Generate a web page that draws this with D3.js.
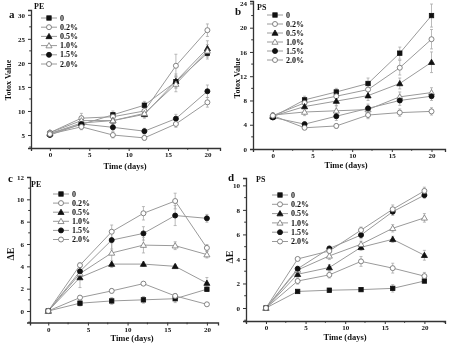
<!DOCTYPE html>
<html>
<head>
<meta charset="utf-8">
<script src="https://cdn.jsdelivr.net/npm/d3@7"></script>
<style>
  body { margin: 0; background: #fff; }
  svg { will-change: transform; }
  text { font-family: "Liberation Serif", "Times New Roman", serif; font-weight: bold; fill: #111; }
</style>
</head>
<body>
<svg id="chart" width="450" height="347"></svg>
<script>
// sampling days and series names
var days = [0, 4, 8, 12, 16, 20];
var seriesNames = ["0", "0.2%", "0.5%", "1.0%", "1.5%", "2.0%"];
var seriesMarks = ["squareFill", "circleOpen", "triFill", "triOpen", "circleFill", "circleOpen"];

// a: Totox value, PE
var totoxPE = [
  [5.3, 7.2, 9.2, 11.2, 16.1, 22.0],
  [5.5, 8.5, 8.8, 10.0, 19.4, 26.8],
  [5.3, 7.5, 8.0, 9.3, 16.2, 23.0],
  [5.5, 8.0, 8.0, 9.5, 15.6, 22.5],
  [5.0, 7.3, 6.6, 5.8, 8.4, 14.1],
  [5.2, 6.7, 5.0, 4.4, 7.3, 11.8]
];
var totoxPEErr = [
  [0.4, 0.8, 0.8, 0.8, 1.2, 1.2],
  [0.4, 1.0, 0.8, 0.9, 2.4, 1.3],
  [0.3, 0.8, 0.7, 0.8, 1.5, 1.6],
  [0.4, 0.9, 0.8, 0.8, 1.6, 1.3],
  [0.3, 0.6, 0.8, 0.6, 0.9, 1.3],
  [0.4, 0.6, 0.6, 0.5, 0.7, 1.0]
];
// b: Totox value, PS
var totoxPS = [
  [5.3, 8.1, 9.4, 10.8, 15.8, 22.0],
  [5.5, 7.6, 8.7, 9.8, 13.4, 18.1],
  [5.4, 7.0, 7.9, 8.8, 10.8, 14.3],
  [5.6, 6.1, 6.3, 6.5, 8.6, 9.3],
  [5.2, 4.1, 5.4, 6.7, 8.0, 8.7],
  [5.5, 3.5, 3.8, 5.6, 6.0, 6.2]
];
var totoxPSErr = [
  [0.4, 0.6, 0.6, 0.9, 1.0, 1.9],
  [0.4, 0.7, 0.8, 0.8, 1.2, 1.6],
  [0.4, 0.7, 0.8, 0.8, 0.9, 1.7],
  [0.4, 0.6, 0.9, 0.6, 0.8, 0.8],
  [0.3, 0.4, 0.7, 0.7, 0.8, 0.7],
  [0.4, 0.3, 0.4, 0.6, 0.6, 0.6]
];
// c: colour difference, PE
var dePE = [
  [0, 0.7, 0.9, 1.0, 1.1, 1.95],
  [0, 1.2, 1.8, 2.45, 1.35, 0.6],
  [0, 3.0, 4.2, 4.2, 4.0, 2.5],
  [0, 3.35, 5.2, 5.9, 5.85, 5.05],
  [0, 3.55, 6.35, 6.95, 8.55, 8.3],
  [0, 4.1, 7.1, 8.75, 9.85, 5.65]
];
var dePEErr = [
  [0, 0.25, 0.3, 0.3, 0.35, 0.2],
  [0, 0.15, 0.2, 0.15, 0.2, 0.1],
  [0, 0.9, 0.3, 0.2, 0.15, 0.5],
  [0, 0.3, 0.9, 0.7, 0.35, 0.3],
  [0, 0.4, 0.8, 0.6, 0.9, 0.35],
  [0, 0.2, 0.6, 0.6, 0.7, 0.3]
];
// d: colour difference, PS
var dePS = [
  [0, 1.35, 1.45, 1.5, 1.6, 2.2],
  [0, 2.2, 2.7, 3.8, 3.25, 2.6],
  [0, 2.75, 3.3, 4.95, 5.6, 4.3],
  [0, 3.1, 4.25, 5.2, 6.5, 7.35],
  [0, 3.2, 4.85, 5.95, 7.85, 9.2],
  [0, 4.0, 4.65, 6.35, 8.05, 9.55]
];
var dePSErr = [
  [0, 0.1, 0.15, 0.15, 0.3, 0.15],
  [0, 0.25, 0.25, 0.4, 0.4, 0.3],
  [0, 0.2, 0.25, 0.25, 0.25, 0.4],
  [0, 0.2, 0.3, 0.25, 0.3, 0.35],
  [0, 0.2, 0.2, 0.3, 0.3, 0.25],
  [0, 0.1, 0.2, 0.25, 0.35, 0.3]
];

var xTicks = [0, 5, 10, 15, 20];

var panels = [
  { letter: "a", poly: "PE", ylab: "Totox Value", vals: totoxPE, errs: totoxPEErr,
    xd: [-2.4, 21.6], xr: [31, 220], yd: [2.3, 31], yr: [148, 10],
    yTicks: [5, 10, 15, 20, 25, 30], yMinor: 2.5,
    letterPos: [9, 18], polyPos: [34, 9], leg: [41, 18, 9.2],
    ylabPos: [11, 80], xlabPos: [125, 169] },
  { letter: "b", poly: "PS", ylab: "Totox Value", vals: totoxPS, errs: totoxPSErr,
    xd: [-2.5, 21.7], xr: [253, 445], yd: [0, 24.4], yr: [149, 1],
    yTicks: [0, 4, 8, 12, 16, 20, 24], yMinor: 2,
    letterPos: [235, 15], polyPos: [257, 10], leg: [267, 15, 9],
    ylabPos: [240, 78], xlabPos: [346, 167.5] },
  { letter: "c", poly: "PE", ylab: "\u0394E", vals: dePE, errs: dePEErr,
    xd: [-2.3, 21.4], xr: [30, 218], yd: [-1.03, 12], yr: [322.5, 177],
    yTicks: [0, 2, 4, 6, 8, 10, 12], yMinor: 1,
    letterPos: [8, 182], polyPos: [31, 187], leg: [53, 194, 9.1],
    ylabPos: [14, 254], xlabPos: [132, 341] },
  { letter: "d", poly: "PS", ylab: "\u0394E", vals: dePS, errs: dePSErr,
    xd: [-2.52, 22.6], xr: [246, 445], yd: [-1.06, 10.6], yr: [321, 178],
    yTicks: [0, 2, 4, 6, 8, 10], yMinor: 1,
    letterPos: [228, 181], polyPos: [256, 182], leg: [272, 195, 9.3],
    ylabPos: [233, 257], xlabPos: [345, 340] }
];

var svg = d3.select("#chart");
var lineCol = "#9a9a9a";

function drawMark(g, kind, x, y) {
  var filled = kind.indexOf("Fill") > -1;
  var fill = filled ? "#111" : "#fff";
  var stroke = filled ? "#111" : "#777";
  if (kind.indexOf("square") === 0) {
    g.append("rect").attr("x", x - 2.2).attr("y", y - 2.2).attr("width", 4.4).attr("height", 4.4)
      .attr("fill", fill).attr("stroke", stroke).attr("stroke-width", 0.8);
  } else if (kind.indexOf("circle") === 0) {
    g.append("circle").attr("cx", x).attr("cy", y).attr("r", 2.5)
      .attr("fill", fill).attr("stroke", stroke).attr("stroke-width", 0.9);
  } else {
    var sym = d3.symbol().type(d3.symbolTriangle).size(16);
    g.append("path").attr("d", sym).attr("transform", "translate(" + x + "," + (y + 0.5) + ")")
      .attr("fill", fill).attr("stroke", stroke).attr("stroke-width", 0.8);
  }
}

panels.forEach(function(p) {
  var g = svg.append("g");
  var x = d3.scaleLinear().domain(p.xd).range(p.xr);
  var y = d3.scaleLinear().domain(p.yd).range(p.yr);

  // axes (left + bottom only, outward ticks)
  var xAxis = d3.axisBottom(x).tickValues(xTicks).tickSize(3).tickPadding(1.5).tickFormat(d3.format("d"));
  var yAxis = d3.axisLeft(y).tickValues(p.yTicks).tickSize(3).tickPadding(3).tickFormat(d3.format("d"));
  var gx = g.append("g").attr("transform", "translate(0," + p.yr[0] + ")").call(xAxis);
  var gy = g.append("g").attr("transform", "translate(" + p.xr[0] + ",0)").call(yAxis);
  [gx, gy].forEach(function(a) {
    a.select(".domain").attr("stroke", "#333").attr("stroke-width", 1.3);
    a.selectAll(".tick line").attr("stroke", "#333").attr("stroke-width", 1);
    a.selectAll(".tick text").attr("fill", "#111").style("font-size", "7px")
      .style("font-family", "Liberation Serif").style("font-weight", "bold");
  });

  // minor ticks
  var xm = d3.range(-2.5, p.xd[1], 2.5).filter(function(v) { return v > p.xd[0] && v % 5 !== 0; });
  g.selectAll(".xm").data(xm).enter().append("line")
    .attr("x1", function(d) { return x(d); }).attr("x2", function(d) { return x(d); })
    .attr("y1", p.yr[0]).attr("y2", p.yr[0] + 1.8).attr("stroke", "#333");
  var ym = d3.range(Math.ceil(p.yd[0] / p.yMinor) * p.yMinor, p.yd[1], p.yMinor)
    .filter(function(v) { return p.yTicks.indexOf(v) < 0; });
  g.selectAll(".ym").data(ym).enter().append("line")
    .attr("x1", p.xr[0] - 1.8).attr("x2", p.xr[0])
    .attr("y1", function(d) { return y(d); }).attr("y2", function(d) { return y(d); }).attr("stroke", "#333");

  // lines and error bars
  var line = d3.line().x(function(d, i) { return x(days[i]); }).y(function(d) { return y(d); });
  p.vals.forEach(function(s, k) {
    g.append("path").datum(s).attr("d", line).attr("fill", "none").attr("stroke", lineCol).attr("stroke-width", 1);
  });
  p.vals.forEach(function(s, k) {
    s.forEach(function(v, i) {
      var e = p.errs[k][i];
      if (e <= 0) return;
      var cx = x(days[i]);
      g.append("line").attr("x1", cx).attr("x2", cx).attr("y1", y(v - e)).attr("y2", y(v + e))
        .attr("stroke", "#aaa").attr("stroke-width", 0.8);
      [v - e, v + e].forEach(function(t) {
        g.append("line").attr("x1", cx - 1.5).attr("x2", cx + 1.5).attr("y1", y(t)).attr("y2", y(t))
          .attr("stroke", "#aaa").attr("stroke-width", 0.8);
      });
    });
  });
  p.vals.forEach(function(s, k) {
    s.forEach(function(v, i) { drawMark(g, seriesMarks[k], x(days[i]), y(v)); });
  });

  // legend
  seriesNames.forEach(function(name, k) {
    var ly = p.leg[1] + k * p.leg[2];
    g.append("line").attr("x1", p.leg[0]).attr("x2", p.leg[0] + 16).attr("y1", ly).attr("y2", ly)
      .attr("stroke", lineCol).attr("stroke-width", 1);
    drawMark(g, seriesMarks[k], p.leg[0] + 8, ly);
    g.append("text").attr("x", p.leg[0] + 19).attr("y", ly + 2.6).attr("fill", "#111")
      .style("font-size", "8px").text(name);
  });

  // labels
  g.append("text").attr("x", p.letterPos[0]).attr("y", p.letterPos[1]).style("font-size", "11px").text(p.letter);
  g.append("text").attr("x", p.polyPos[0]).attr("y", p.polyPos[1]).style("font-size", "8px").text(p.poly);
  g.append("text").attr("transform", "translate(" + p.ylabPos[0] + "," + p.ylabPos[1] + ") rotate(-90)")
    .attr("text-anchor", "middle").style("font-size", p.ylab.length > 3 ? "8px" : "10px").text(p.ylab);
  g.append("text").attr("x", p.xlabPos[0]).attr("y", p.xlabPos[1]).attr("text-anchor", "middle")
    .style("font-size", "8.5px").text("Time (days)");
});
</script>
</body>
</html>
